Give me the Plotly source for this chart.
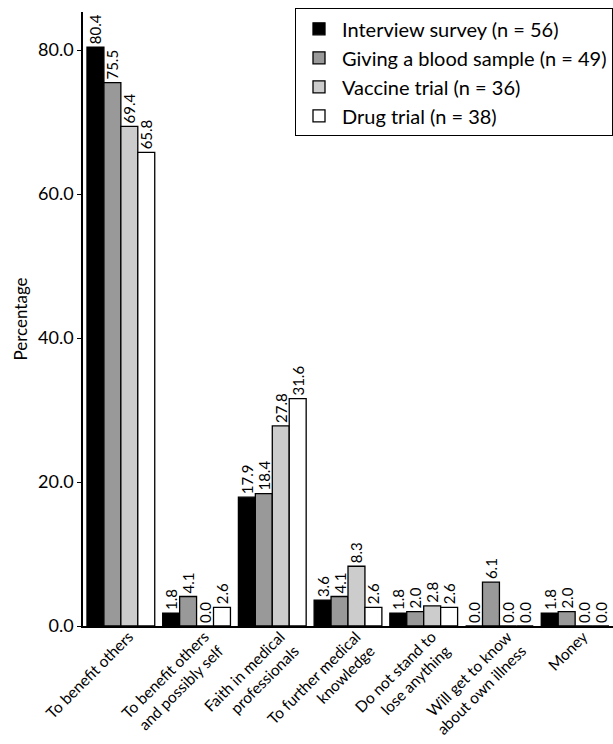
import plotly.graph_objects as go

categories = [
    "To benefit others",
    "To benefit others<br>and possibly self",
    "Faith in medical<br>professionals",
    "To further medical<br>knowledge",
    "Do not stand to<br>lose anything",
    "Will get to know<br>about own illness",
    "Money",
]
series_names = [
    "Interview survey (n = 56)",
    "Giving a blood sample (n = 49)",
    "Vaccine trial (n = 36)",
    "Drug trial (n = 38)",
]
interview = [80.4, 1.8, 17.9, 3.6, 1.8, 0.0, 1.8]
blood = [75.5, 4.1, 18.4, 4.1, 2.0, 6.1, 2.0]
vaccine = [69.4, 0.0, 27.8, 8.3, 2.8, 0.0, 0.0]
drug = [65.8, 2.6, 31.6, 2.6, 2.6, 0.0, 0.0]
y_ticks = [0, 20, 40, 60, 80]

colors = ["#000000", "#999999", "#cccccc", "#ffffff"]
FONT = "Lato"

fig = go.Figure()
for name, vals, col in zip(series_names, [interview, blood, vaccine, drug], colors):
    fig.add_trace(go.Bar(
        name=name,
        x=categories,
        y=vals,
        marker=dict(color=col, line=dict(color="#000000", width=1.3)),
        text=[f"{v:.1f}" for v in vals],
        textposition="outside",
        textangle=-90,
        constraintext="none",
        textfont=dict(family=FONT, size=15, color="#000000"),
        cliponaxis=False,
    ))

fig.update_layout(
    width=613,
    height=744,
    margin=dict(l=83, r=0, t=12, b=118),
    paper_bgcolor="white",
    plot_bgcolor="white",
    barmode="group",
    bargap=0.105,
    bargroupgap=0,
    font=dict(family=FONT, color="#000000"),
    showlegend=True,
    legend=dict(
        x=1.0, y=1.006, xanchor="right", yanchor="top",
        bordercolor="#000000", borderwidth=1,
        bgcolor="white",
        font=dict(family=FONT, size=20, color="#000000"),
        tracegroupgap=0,
        itemwidth=36,
    ),
)
fig.update_xaxes(
    range=[-0.5, 6.5],
    showline=True, linecolor="#000000", linewidth=1.5,
    ticks="", tickangle=-45,
    tickfont=dict(family=FONT, size=15.5, color="#000000"),
    ticklabelstandoff=-6, ticklabelshift=8,
    showgrid=False, automargin=False,
)
fig.update_yaxes(
    range=[0, 85.3],
    tickvals=y_ticks,
    ticktext=[f"{v:.1f}" for v in y_ticks],
    showline=True, linecolor="#000000", linewidth=1.5,
    ticks="outside", ticklen=4, tickcolor="#000000",
    tickfont=dict(family=FONT, size=18, color="#000000"),
    showgrid=False, zeroline=False, automargin=False,
    title=dict(text="Percentage", font=dict(family=FONT, size=17, color="#000000"), standoff=6),
)

fig.write_html(
    "out.html",
    config={"displayModeBar": False},
    post_script="document.body.style.margin='0';document.body.style.overflow='hidden';",
)
